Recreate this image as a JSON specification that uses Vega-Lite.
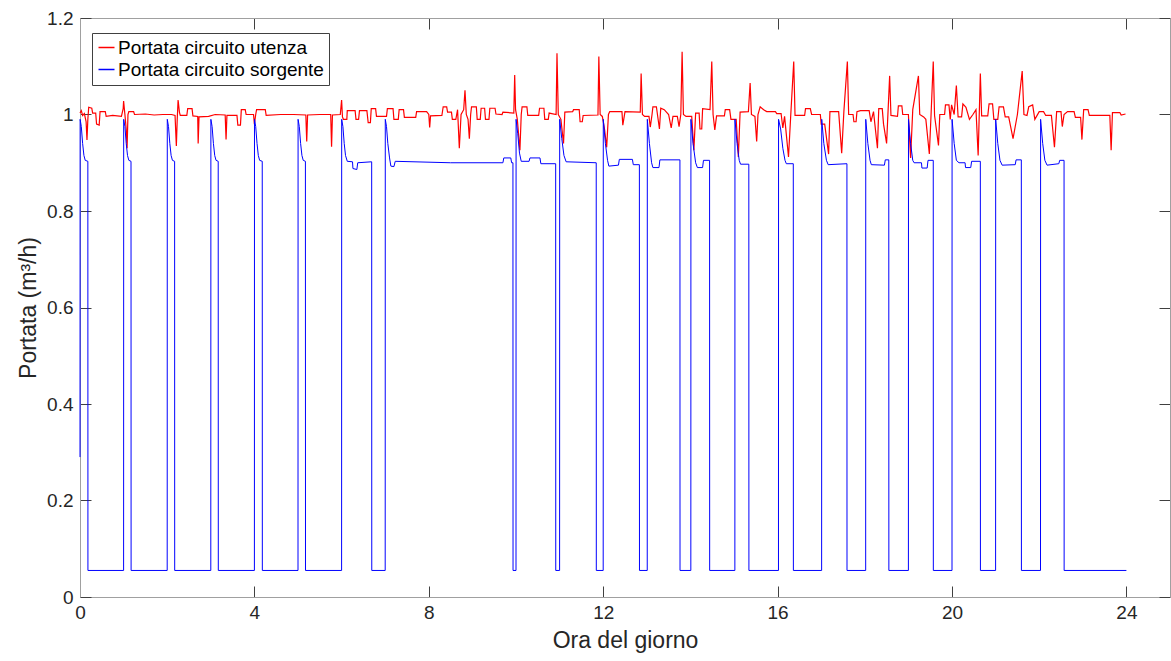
{
  "$schema": "https://vega.github.io/schema/vega-lite/v6.json",
  "width": 1090,
  "height": 579,
  "autosize": "none",
  "padding": {"left": 80, "top": 18, "right": 1, "bottom": 64},
  "background": "white",
  "config": {"font": "Liberation Sans", "view": {"stroke": null}},
  "datasets": {
    "utenza": [
      {"h":0.00,"v":1.003},{"h":0.03,"v":1.008},{"h":0.06,"v":0.998},{"h":0.10,"v":1.002},{"h":0.14,"v":0.985},{"h":0.16,"v":0.947},{"h":0.18,"v":0.99},{"h":0.20,"v":1.015},{"h":0.27,"v":1.013},{"h":0.29,"v":1.003},{"h":0.36,"v":1.003},{"h":0.38,"v":0.98},{"h":0.44,"v":0.978},{"h":0.46,"v":1.006},{"h":0.58,"v":1.006},{"h":0.60,"v":0.996},{"h":0.75,"v":0.998},{"h":0.95,"v":0.996},{"h":0.99,"v":1.012},{"h":1.00,"v":1.028},{"h":1.03,"v":1.0},{"h":1.06,"v":0.97},{"h":1.08,"v":0.93},{"h":1.10,"v":1.0},{"h":1.12,"v":1.006},{"h":1.23,"v":1.006},{"h":1.25,"v":1.0},{"h":1.5,"v":1.001},{"h":1.7,"v":0.999},{"h":1.9,"v":1.0},{"h":2.1,"v":1.0},{"h":2.18,"v":0.998},{"h":2.21,"v":0.935},{"h":2.23,"v":0.99},{"h":2.25,"v":1.03},{"h":2.28,"v":1.005},{"h":2.30,"v":0.998},{"h":2.45,"v":0.998},{"h":2.47,"v":1.012},{"h":2.57,"v":1.012},{"h":2.59,"v":0.997},{"h":2.70,"v":0.996},{"h":2.71,"v":0.94},{"h":2.73,"v":0.995},{"h":2.95,"v":0.996},{"h":3.1,"v":1.0},{"h":3.33,"v":0.999},{"h":3.35,"v":0.948},{"h":3.37,"v":0.998},{"h":3.60,"v":0.998},{"h":3.62,"v":0.978},{"h":3.68,"v":0.978},{"h":3.70,"v":1.01},{"h":3.79,"v":1.01},{"h":3.81,"v":1.0},{"h":3.98,"v":1.0},{"h":4.00,"v":0.98},{"h":4.03,"v":1.0},{"h":4.05,"v":1.01},{"h":4.25,"v":1.01},{"h":4.27,"v":0.998},{"h":4.6,"v":1.0},{"h":4.9,"v":1.0},{"h":5.18,"v":0.999},{"h":5.2,"v":0.944},{"h":5.22,"v":0.999},{"h":5.5,"v":1.0},{"h":5.75,"v":1.0},{"h":5.77,"v":0.933},{"h":5.79,"v":0.999},{"h":5.97,"v":1.0},{"h":6.0,"v":1.03},{"h":6.02,"v":0.995},{"h":6.04,"v":0.99},{"h":6.12,"v":0.99},{"h":6.13,"v":1.008},{"h":6.31,"v":1.008},{"h":6.33,"v":0.99},{"h":6.39,"v":0.99},{"h":6.41,"v":1.008},{"h":6.58,"v":1.008},{"h":6.61,"v":0.983},{"h":6.66,"v":0.983},{"h":6.68,"v":1.012},{"h":6.78,"v":1.012},{"h":6.80,"v":0.996},{"h":7.03,"v":0.996},{"h":7.05,"v":1.012},{"h":7.18,"v":1.012},{"h":7.20,"v":0.99},{"h":7.30,"v":0.99},{"h":7.32,"v":1.01},{"h":7.42,"v":1.01},{"h":7.44,"v":0.994},{"h":7.70,"v":0.994},{"h":7.72,"v":1.006},{"h":7.95,"v":1.006},{"h":8.0,"v":1.0},{"h":8.02,"v":0.973},{"h":8.04,"v":0.997},{"h":8.30,"v":0.998},{"h":8.33,"v":1.016},{"h":8.41,"v":1.016},{"h":8.43,"v":1.005},{"h":8.52,"v":1.005},{"h":8.54,"v":0.99},{"h":8.62,"v":0.99},{"h":8.66,"v":1.01},{"h":8.70,"v":0.93},{"h":8.74,"v":1.0},{"h":8.80,"v":1.01},{"h":8.83,"v":1.05},{"h":8.86,"v":1.0},{"h":8.90,"v":0.99},{"h":8.93,"v":0.95},{"h":8.96,"v":1.0},{"h":8.98,"v":1.016},{"h":9.09,"v":1.016},{"h":9.11,"v":0.99},{"h":9.18,"v":0.99},{"h":9.20,"v":1.013},{"h":9.28,"v":1.013},{"h":9.30,"v":0.99},{"h":9.38,"v":0.99},{"h":9.40,"v":1.013},{"h":9.52,"v":1.013},{"h":9.54,"v":1.001},{"h":9.68,"v":1.0},{"h":9.70,"v":1.005},{"h":9.95,"v":1.003},{"h":9.97,"v":1.082},{"h":9.99,"v":1.01},{"h":10.03,"v":0.99},{"h":10.09,"v":0.926},{"h":10.12,"v":1.0},{"h":10.14,"v":1.016},{"h":10.25,"v":1.016},{"h":10.27,"v":0.998},{"h":10.52,"v":0.998},{"h":10.54,"v":1.013},{"h":10.64,"v":1.013},{"h":10.66,"v":0.99},{"h":10.74,"v":0.99},{"h":10.76,"v":1.003},{"h":10.92,"v":1.0},{"h":10.94,"v":1.127},{"h":10.97,"v":1.0},{"h":11.03,"v":0.99},{"h":11.09,"v":0.94},{"h":11.12,"v":1.005},{"h":11.30,"v":1.006},{"h":11.32,"v":1.01},{"h":11.45,"v":1.01},{"h":11.47,"v":0.985},{"h":11.52,"v":0.985},{"h":11.54,"v":0.998},{"h":11.88,"v":0.999},{"h":11.90,"v":1.12},{"h":11.93,"v":1.0},{"h":11.98,"v":0.996},{"h":12.03,"v":0.97},{"h":12.08,"v":0.932},{"h":12.12,"v":1.0},{"h":12.15,"v":1.006},{"h":12.43,"v":1.006},{"h":12.45,"v":0.978},{"h":12.50,"v":1.006},{"h":12.85,"v":1.005},{"h":12.87,"v":1.085},{"h":12.90,"v":1.0},{"h":12.95,"v":0.996},{"h":13.05,"v":0.996},{"h":13.08,"v":0.974},{"h":13.12,"v":1.0},{"h":13.14,"v":1.016},{"h":13.22,"v":1.016},{"h":13.29,"v":0.97},{"h":13.32,"v":1.013},{"h":13.40,"v":1.01},{"h":13.50,"v":1.0},{"h":13.56,"v":0.972},{"h":13.60,"v":0.996},{"h":13.70,"v":0.996},{"h":13.74,"v":0.975},{"h":13.78,"v":1.0},{"h":13.81,"v":1.13},{"h":13.84,"v":1.0},{"h":13.90,"v":0.996},{"h":14.03,"v":0.996},{"h":14.08,"v":0.926},{"h":14.12,"v":1.003},{"h":14.20,"v":1.003},{"h":14.22,"v":0.97},{"h":14.26,"v":0.97},{"h":14.28,"v":1.012},{"h":14.45,"v":1.01},{"h":14.49,"v":1.11},{"h":14.52,"v":1.0},{"h":14.56,"v":0.968},{"h":14.60,"v":0.997},{"h":14.78,"v":0.997},{"h":14.80,"v":1.01},{"h":14.90,"v":1.01},{"h":14.93,"v":0.99},{"h":15.05,"v":0.99},{"h":15.10,"v":0.912},{"h":15.14,"v":1.005},{"h":15.33,"v":1.006},{"h":15.37,"v":1.065},{"h":15.40,"v":1.0},{"h":15.48,"v":0.996},{"h":15.52,"v":0.944},{"h":15.55,"v":1.0},{"h":15.60,"v":1.016},{"h":15.68,"v":1.01},{"h":15.75,"v":1.006},{"h":15.95,"v":1.006},{"h":15.98,"v":1.002},{"h":16.08,"v":1.002},{"h":16.12,"v":0.972},{"h":16.16,"v":0.996},{"h":16.25,"v":0.912},{"h":16.30,"v":0.996},{"h":16.37,"v":1.11},{"h":16.40,"v":0.998},{"h":16.62,"v":0.998},{"h":16.64,"v":1.012},{"h":16.75,"v":1.012},{"h":16.78,"v":1.0},{"h":16.98,"v":1.0},{"h":17.00,"v":0.98},{"h":17.08,"v":0.98},{"h":17.17,"v":0.918},{"h":17.20,"v":1.006},{"h":17.40,"v":1.006},{"h":17.47,"v":0.92},{"h":17.52,"v":1.006},{"h":17.60,"v":1.11},{"h":17.63,"v":1.0},{"h":17.73,"v":1.0},{"h":17.75,"v":0.985},{"h":17.80,"v":0.985},{"h":17.82,"v":1.006},{"h":17.90,"v":1.008},{"h":18.10,"v":1.008},{"h":18.14,"v":0.985},{"h":18.20,"v":1.006},{"h":18.29,"v":0.93},{"h":18.32,"v":1.012},{"h":18.40,"v":1.012},{"h":18.43,"v":0.98},{"h":18.50,"v":0.94},{"h":18.57,"v":1.08},{"h":18.60,"v":0.998},{"h":18.75,"v":0.996},{"h":18.77,"v":1.018},{"h":18.85,"v":1.018},{"h":18.87,"v":1.0},{"h":19.0,"v":1.0},{"h":19.05,"v":0.91},{"h":19.10,"v":1.01},{"h":19.23,"v":1.08},{"h":19.26,"v":1.0},{"h":19.35,"v":0.995},{"h":19.40,"v":0.99},{"h":19.48,"v":0.918},{"h":19.52,"v":1.0},{"h":19.57,"v":1.11},{"h":19.60,"v":0.998},{"h":19.69,"v":0.936},{"h":19.72,"v":1.0},{"h":19.83,"v":1.0},{"h":19.85,"v":1.02},{"h":19.93,"v":1.02},{"h":19.96,"v":0.99},{"h":19.99,"v":1.02},{"h":20.05,"v":1.0},{"h":20.10,"v":1.06},{"h":20.14,"v":0.995},{"h":20.22,"v":0.995},{"h":20.25,"v":1.022},{"h":20.32,"v":1.015},{"h":20.40,"v":0.99},{"h":20.48,"v":1.0},{"h":20.55,"v":1.01},{"h":20.60,"v":0.915},{"h":20.65,"v":1.085},{"h":20.68,"v":0.997},{"h":20.82,"v":0.997},{"h":20.85,"v":1.022},{"h":20.93,"v":1.022},{"h":20.96,"v":0.99},{"h":21.05,"v":0.99},{"h":21.08,"v":1.016},{"h":21.18,"v":1.016},{"h":21.22,"v":0.995},{"h":21.30,"v":0.995},{"h":21.40,"v":0.95},{"h":21.50,"v":1.0},{"h":21.61,"v":1.09},{"h":21.65,"v":1.0},{"h":21.72,"v":0.998},{"h":21.76,"v":1.016},{"h":21.85,"v":1.02},{"h":21.90,"v":0.99},{"h":22.0,"v":1.006},{"h":22.10,"v":1.006},{"h":22.15,"v":0.998},{"h":22.28,"v":0.998},{"h":22.35,"v":0.932},{"h":22.40,"v":1.006},{"h":22.50,"v":1.006},{"h":22.53,"v":0.975},{"h":22.57,"v":1.0},{"h":22.65,"v":1.006},{"h":22.80,"v":1.006},{"h":22.83,"v":0.994},{"h":22.95,"v":0.994},{"h":22.98,"v":0.948},{"h":23.02,"v":1.01},{"h":23.12,"v":1.01},{"h":23.15,"v":0.998},{"h":23.62,"v":0.998},{"h":23.65,"v":0.926},{"h":23.68,"v":1.004},{"h":23.85,"v":1.004},{"h":23.88,"v":0.999},{"h":23.98,"v":1.001}
    ],
    "sorgente": [
      {"h":0.0,"v":0.29},{"h":0.003,"v":0.99},{"h":0.03,"v":0.975},{"h":0.06,"v":0.94},{"h":0.09,"v":0.915},{"h":0.12,"v":0.905},{"h":0.18,"v":0.903},{"h":0.182,"v":0.055},
      {"h":1.0,"v":0.055},{"h":1.002,"v":0.99},{"h":1.03,"v":0.975},{"h":1.06,"v":0.94},{"h":1.09,"v":0.915},{"h":1.12,"v":0.905},{"h":1.17,"v":0.903},{"h":1.172,"v":0.055},
      {"h":2.0,"v":0.055},{"h":2.002,"v":0.99},{"h":2.03,"v":0.975},{"h":2.06,"v":0.94},{"h":2.09,"v":0.915},{"h":2.12,"v":0.905},{"h":2.17,"v":0.903},{"h":2.172,"v":0.055},
      {"h":3.0,"v":0.055},{"h":3.002,"v":0.99},{"h":3.03,"v":0.975},{"h":3.06,"v":0.94},{"h":3.09,"v":0.915},{"h":3.12,"v":0.905},{"h":3.17,"v":0.903},{"h":3.172,"v":0.055},
      {"h":4.0,"v":0.055},{"h":4.002,"v":0.99},{"h":4.03,"v":0.975},{"h":4.06,"v":0.94},{"h":4.09,"v":0.915},{"h":4.12,"v":0.905},{"h":4.18,"v":0.903},{"h":4.182,"v":0.055},
      {"h":5.0,"v":0.055},{"h":5.002,"v":0.99},{"h":5.03,"v":0.975},{"h":5.06,"v":0.94},{"h":5.09,"v":0.915},{"h":5.12,"v":0.905},{"h":5.17,"v":0.903},{"h":5.172,"v":0.055},
      {"h":6.0,"v":0.055},{"h":6.002,"v":0.99},{"h":6.03,"v":0.975},{"h":6.06,"v":0.94},{"h":6.09,"v":0.915},{"h":6.13,"v":0.903},{"h":6.25,"v":0.902},{"h":6.26,"v":0.888},{"h":6.35,"v":0.886},{"h":6.37,"v":0.9},{"h":6.69,"v":0.902},{"h":6.692,"v":0.055},
      {"h":7.0,"v":0.055},{"h":7.002,"v":0.99},{"h":7.03,"v":0.975},{"h":7.06,"v":0.94},{"h":7.1,"v":0.91},{"h":7.13,"v":0.893},{"h":7.2,"v":0.892},{"h":7.23,"v":0.903},{"h":8.5,"v":0.9},{"h":9.7,"v":0.9},{"h":9.72,"v":0.91},{"h":9.88,"v":0.91},{"h":9.9,"v":0.9},{"h":9.93,"v":0.9},{"h":9.932,"v":0.055},
      {"h":10.0,"v":0.055},{"h":10.002,"v":0.99},{"h":10.04,"v":0.96},{"h":10.08,"v":0.92},{"h":10.12,"v":0.903},{"h":10.3,"v":0.903},{"h":10.32,"v":0.91},{"h":10.55,"v":0.91},{"h":10.57,"v":0.898},{"h":10.91,"v":0.898},{"h":10.912,"v":0.055},
      {"h":11.0,"v":0.055},{"h":11.002,"v":0.99},{"h":11.05,"v":0.95},{"h":11.1,"v":0.915},{"h":11.15,"v":0.902},{"h":11.84,"v":0.9},{"h":11.842,"v":0.055},
      {"h":12.0,"v":0.055},{"h":12.002,"v":0.99},{"h":12.05,"v":0.94},{"h":12.1,"v":0.905},{"h":12.13,"v":0.893},{"h":12.35,"v":0.895},{"h":12.37,"v":0.907},{"h":12.67,"v":0.907},{"h":12.69,"v":0.896},{"h":12.83,"v":0.896},{"h":12.832,"v":0.055},
      {"h":13.01,"v":0.055},{"h":13.012,"v":0.99},{"h":13.06,"v":0.94},{"h":13.11,"v":0.9},{"h":13.14,"v":0.89},{"h":13.28,"v":0.89},{"h":13.3,"v":0.906},{"h":13.76,"v":0.906},{"h":13.762,"v":0.055},
      {"h":14.01,"v":0.055},{"h":14.012,"v":0.99},{"h":14.06,"v":0.94},{"h":14.12,"v":0.9},{"h":14.16,"v":0.89},{"h":14.28,"v":0.89},{"h":14.3,"v":0.905},{"h":14.44,"v":0.905},{"h":14.442,"v":0.055},
      {"h":15.02,"v":0.055},{"h":15.022,"v":0.99},{"h":15.07,"v":0.94},{"h":15.12,"v":0.905},{"h":15.15,"v":0.897},{"h":15.34,"v":0.897},{"h":15.342,"v":0.055},
      {"h":16.02,"v":0.055},{"h":16.022,"v":0.99},{"h":16.07,"v":0.97},{"h":16.12,"v":0.93},{"h":16.17,"v":0.905},{"h":16.2,"v":0.898},{"h":16.36,"v":0.898},{"h":16.362,"v":0.055},
      {"h":17.01,"v":0.055},{"h":17.012,"v":0.99},{"h":17.06,"v":0.94},{"h":17.12,"v":0.905},{"h":17.16,"v":0.896},{"h":17.59,"v":0.898},{"h":17.592,"v":0.055},
      {"h":18.02,"v":0.055},{"h":18.022,"v":0.99},{"h":18.07,"v":0.94},{"h":18.12,"v":0.905},{"h":18.15,"v":0.896},{"h":18.45,"v":0.895},{"h":18.47,"v":0.906},{"h":18.55,"v":0.906},{"h":18.552,"v":0.055},
      {"h":19.0,"v":0.055},{"h":19.002,"v":0.99},{"h":19.05,"v":0.94},{"h":19.1,"v":0.905},{"h":19.13,"v":0.9},{"h":19.3,"v":0.9},{"h":19.31,"v":0.889},{"h":19.43,"v":0.889},{"h":19.45,"v":0.905},{"h":19.57,"v":0.905},{"h":19.572,"v":0.055},
      {"h":20.0,"v":0.055},{"h":20.002,"v":0.99},{"h":20.05,"v":0.94},{"h":20.1,"v":0.905},{"h":20.16,"v":0.9},{"h":20.3,"v":0.9},{"h":20.31,"v":0.89},{"h":20.43,"v":0.89},{"h":20.45,"v":0.903},{"h":20.65,"v":0.903},{"h":20.652,"v":0.055},
      {"h":21.0,"v":0.055},{"h":21.002,"v":0.99},{"h":21.05,"v":0.94},{"h":21.1,"v":0.905},{"h":21.15,"v":0.895},{"h":21.45,"v":0.896},{"h":21.47,"v":0.906},{"h":21.59,"v":0.906},{"h":21.592,"v":0.055},
      {"h":22.03,"v":0.055},{"h":22.032,"v":0.99},{"h":22.08,"v":0.94},{"h":22.13,"v":0.905},{"h":22.18,"v":0.895},{"h":22.45,"v":0.898},{"h":22.47,"v":0.905},{"h":22.57,"v":0.905},{"h":22.572,"v":0.055},
      {"h":24.0,"v":0.055}
    ]
  },
  "layer": [
    {
      "data": {"name": "utenza"},
      "mark": {"type": "line", "strokeWidth": 1.2, "interpolate": "linear"},
      "encoding": {
        "x": {"field": "h", "type": "quantitative", "sort": null,
          "scale": {"domain": [0, 25], "nice": false, "zero": false},
          "axis": {"orient": "bottom", "values": [0,4,8,12,16,20,24], "title": "Ora del giorno", "grid": false,
            "tickSize": -11, "labelPadding": 17, "titlePadding": 7, "domainColor": "#a0a0a0", "tickColor": "#404040",
            "labelFontSize": 19, "labelColor": "#262626", "titleFontSize": 23, "titleFontWeight": "normal", "titleColor": "#262626", "labelFlush": false}},
        "y": {"field": "v", "type": "quantitative",
          "scale": {"domain": [0, 1.2], "nice": false, "zero": false},
          "axis": {"orient": "left", "values": [0,0.2,0.4,0.6,0.8,1,1.2], "format": "~g", "title": "Portata (m³/h)", "grid": false,
            "tickSize": -11, "labelPadding": 18, "titlePadding": 6, "domainColor": "#a0a0a0", "tickColor": "#404040",
            "labelFontSize": 19, "labelColor": "#262626", "titleFontSize": 23, "titleFontWeight": "normal", "titleColor": "#262626", "labelFlush": false}},
        "color": {"datum": "Portata circuito utenza", "type": "nominal",
          "scale": {"domain": ["Portata circuito utenza", "Portata circuito sorgente"], "range": ["#ff0000", "#0000ff"]},
          "legend": {"title": null, "orient": "none", "legendX": 12, "legendY": 15, "symbolType": "stroke", "symbolSize": 256, "symbolStrokeWidth": 1.5,
            "labelFontSize": 19, "labelColor": "#000000", "labelOffset": 2, "padding": 5, "rowPadding": 2, "strokeColor": "#404040", "fillColor": "white", "labelLimit": 400}}
      }
    },
    {
      "data": {"name": "sorgente"},
      "mark": {"type": "line", "strokeWidth": 1, "interpolate": "linear"},
      "encoding": {
        "x": {"field": "h", "type": "quantitative", "sort": null,
          "axis": {"orient": "top", "values": [0,4,8,12,16,20,24], "labels": false, "title": null, "grid": false,
            "tickSize": -11, "domainColor": "#a0a0a0", "tickColor": "#404040"}},
        "y": {"field": "v", "type": "quantitative",
          "axis": {"orient": "right", "values": [0,0.2,0.4,0.6,0.8,1,1.2], "labels": false, "title": null, "grid": false,
            "tickSize": -11, "domainColor": "#a0a0a0", "tickColor": "#404040"}},
        "color": {"datum": "Portata circuito sorgente", "type": "nominal"}
      }
    }
  ],
  "resolve": {"axis": {"x": "independent", "y": "independent"}}
}
